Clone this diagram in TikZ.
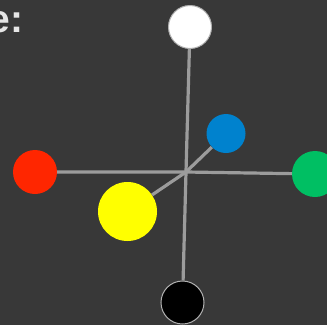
\documentclass[tikz,border=0pt]{standalone}
\usepackage{fontspec}
\setmainfont{Liberation Sans}

\definecolor{bg}{HTML}{383838}
\definecolor{axis}{HTML}{9C9C9C}
\definecolor{txt}{HTML}{E6E6E6}
\definecolor{ballred}{HTML}{FF2600}
\definecolor{ballgreen}{HTML}{00BF63}
\definecolor{ballblue}{HTML}{0082CE}
\definecolor{ballyellow}{HTML}{FFFF00}

\begin{document}
\begin{tikzpicture}[x=1pt, y=-1pt,
    ball/.style={circle, inner sep=0pt, minimum size=#1},
    axisline/.style={draw=axis, line width=3.2pt}]
                    \fill[bg] (0,0) rectangle (327,325);
                    \useasboundingbox (0,0) rectangle (327,325);
                    \node[anchor=base east, text=txt, font=\bfseries\fontsize{39}{41}\selectfont] (title) at (27,32) {e:};
                    \coordinate (o) at (186,172);
                    \node[ball=44pt, fill=ballred] (red) at (35,172) {};
                    \node[ball=46pt, fill=ballgreen] (green) at (315,174) {};
                    \node[ball=43pt, fill=white, draw=axis!80!white, line width=1pt] (white) at (190,27) {};
                    \node[ball=43pt, fill=black, draw=axis!80!white, line width=1pt] (black) at (182.5,302.5) {};
                    \node[ball=39pt, fill=ballblue] (blue) at (226,133.5) {};
                    \node[ball=59pt, fill=ballyellow] (yellow) at (127.5,211.5) {};
                    % axes, ending at the balls
                    \draw[axisline] (white) -- (o) -- (black);
                    \draw[axisline] (red) -- (o) -- (green);
                    \draw[axisline] (yellow) -- (o) -- (blue);
                \end{tikzpicture}
\end{document}
